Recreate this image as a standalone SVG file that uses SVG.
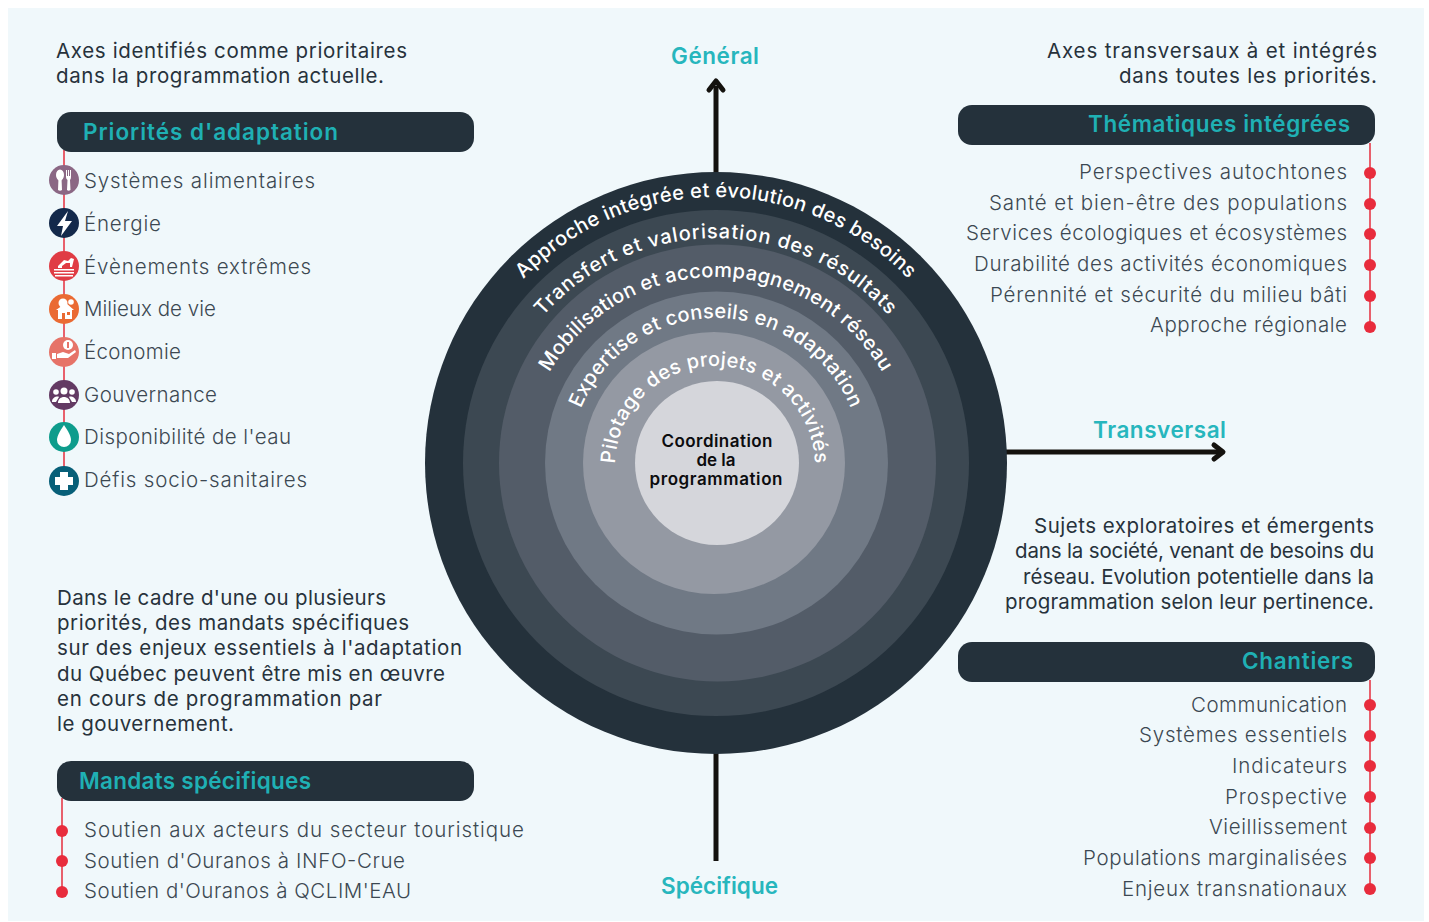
<svg xmlns="http://www.w3.org/2000/svg" width="1429" height="922" viewBox="0 0 1429 922">
<style>
text{font-family:"Inter","Noto Sans","Liberation Sans",sans-serif}
.t{font-size:20.5px;fill:#3c4852;font-weight:300}
.r{text-anchor:end}
.p{font-size:20.5px;fill:#27323b;font-weight:400}
.h{font-size:22.5px;fill:#1fb0b4;font-weight:600}
.a{font-size:22.5px;fill:#27b6bd;font-weight:600}
.arc{font-size:20px;fill:#fff;font-weight:500;text-anchor:middle}
.c{font-size:17px;fill:#0c0c0e;font-weight:600;text-anchor:middle}
.v{stroke:#e8606c;stroke-width:2;fill:none}
.d{fill:#e82c3c}
.b{fill:#24313b}
.ax{stroke:#14120e;stroke-width:5;fill:none}
.hd{stroke:#14120e;stroke-width:5;fill:none;stroke-linecap:round;stroke-linejoin:round}
.w{fill:#fff}
</style>
<defs>
<path id="a1" d="M449 464A267 267 0 0 1 983 464"/>
<path id="a2" d="M485 469A231 231 0 0 1 947 469"/>
<path id="a3" d="M523 470A193 193 0 0 1 909 470"/>
<path id="a4" d="M570 464A146 146 0 0 1 862 464"/>
<path id="a5" d="M615 466A100 100 0 0 1 815 466"/>
</defs>
<rect width="1429" height="922" fill="#fff"/>
<rect x="8" y="8" width="1416" height="913" fill="#f0f8fb"/>

<g id="connectors">
<path class="ax" d="M716 175V86"/><path class="hd" d="M709 90L716 81L723 90"/>
<path class="ax" d="M1005 452H1221"/><path class="hd" d="M1214 445L1223 452L1214 459"/>
<path class="ax" d="M716 752V861"/>
<path class="v" d="M64 150V480"/>
<path class="v" d="M1370 143V327"/>
<path class="v" d="M1370 680V889"/>
<path class="v" d="M62 798V892"/>
</g>

<g id="centre">
<circle cx="716" cy="463" r="291" fill="#24313b"/>
<circle cx="716" cy="463" r="253" fill="#3c4852"/>
<circle cx="717.500" cy="463" r="218.500" fill="#535c68"/>
<circle cx="716.500" cy="463" r="171.500" fill="#707985"/>
<circle cx="714" cy="463" r="131" fill="#9499a3"/>
<circle cx="717" cy="463" r="82" fill="#d5d6db"/>
<text class="arc" letter-spacing=".36"><textPath href="#a1" startOffset="50%">Approche intégrée et évolution des besoins</textPath></text>
<text class="arc" letter-spacing=".9"><textPath href="#a2" startOffset="50%">Transfert et valorisation des résultats</textPath></text>
<text class="arc" letter-spacing=".35"><textPath href="#a3" startOffset="50%">Mobilisation et accompagnement réseau</textPath></text>
<text class="arc" letter-spacing=".3"><textPath href="#a4" startOffset="50%">Expertise et conseils en adaptation</textPath></text>
<text class="arc" letter-spacing=".3"><textPath href="#a5" startOffset="50%">Pilotage des projets et activités</textPath></text>
<text class="c" x="717" y="447" textLength="111">Coordination</text>
<text class="c" x="716" y="466" textLength="39">de la</text>
<text class="c" x="716" y="485" textLength="133">programmation</text>
</g>

<g id="axis-labels">
<text class="a" x="671" y="64" textLength="88">Général</text>
<text class="a" x="1093" y="438" textLength="133">Transversal</text>
<text class="a" x="661" y="894" textLength="117">Spécifique</text>
</g>

<g id="intro-left">
<text class="p" x="56" y="58" textLength="351">Axes identifiés comme prioritaires</text>
<text class="p" x="56" y="83" textLength="328">dans la programmation actuelle.</text>
</g>
<g id="intro-right">
<text class="p r" x="1377" y="58" textLength="330">Axes transversaux à et intégrés</text>
<text class="p r" x="1377" y="83" textLength="258">dans toutes les priorités.</text>
</g>

<g id="priorites">
<rect class="b" x="57" y="112" width="417" height="40" rx="14"/>
<text class="h" x="83" y="140" textLength="255">Priorités d'adaptation</text>
<text class="t" x="84" y="188" textLength="231">Systèmes alimentaires</text>
<text class="t" x="84" y="231" textLength="77">Énergie</text>
<text class="t" x="84" y="274" textLength="227">Évènements extrêmes</text>
<text class="t" x="84" y="316" textLength="132">Milieux de vie</text>
<text class="t" x="84" y="359" textLength="97">Économie</text>
<text class="t" x="84" y="402" textLength="133">Gouvernance</text>
<text class="t" x="84" y="444" textLength="207">Disponibilité de l'eau</text>
<text class="t" x="84" y="487" textLength="223">Défis socio-sanitaires</text>
</g>
<g id="icon-alimentaires"><circle cx="64" cy="180" r="15" fill="#8b6784"/><ellipse class="w" cx="60" cy="175" rx="4" ry="5.500"/><path class="w" d="M58.500 178H61.500L62 190Q60 191.500 58 190ZM66 170H67V176H68V170H69V176H70V170H71V177Q71 179 70 180L70.500 190Q68.500 191.500 67 190L67.500 180Q66 179 66 177Z"/></g>
<g id="icon-energie"><circle cx="64" cy="223" r="15" fill="#13294b"/><path class="w" d="M68 211L57 226H63L61 236L72 221H65Z"/></g>
<g id="icon-extremes"><circle cx="64" cy="266" r="15" fill="#e03c44"/><path class="w" d="M58 266L64 260L68 261L71 258L74 259L72 267H70L70 263L66 263L62 266L62 268H58ZM54 269H74V270.500H54ZM54 272H74V273.500H54ZM55 275H73V276.500H55Z"/></g>
<g id="icon-milieux"><circle cx="64" cy="309" r="15" fill="#ea6a33"/><path class="w" d="M56 310L66 303L74 310H72V319H58V310Z"/><circle class="w" cx="63" cy="303" r="4.500"/><circle class="w" cx="71" cy="302" r="2.800"/><path fill="#ea6a33" d="M62 313H65V319H62ZM67 312H70V315H67Z"/></g>
<g id="icon-economie"><circle cx="64" cy="352" r="15" fill="#e67368"/><circle class="w" cx="68" cy="345" r="5"/><path fill="#e67368" d="M67 342H69V348H67Z"/><path class="w" d="M52 353H56V359H52ZM57 354L63 352L69 354L75 350L76 352L68 358H57Z"/></g>
<g id="icon-gouvernance"><circle cx="64" cy="395" r="15" fill="#633a63"/><circle class="w" cx="64" cy="391" r="3.500"/><circle class="w" cx="56" cy="392" r="2.800"/><circle class="w" cx="72" cy="392" r="2.800"/><path class="w" d="M58 403C58 395 70 395 70 403ZM52 402C52 396 59 396 59 397L56 402ZM76 402C76 396 69 396 69 397L72 402Z"/></g>
<g id="icon-eau"><circle cx="64" cy="437" r="15" fill="#0e9c8c"/><path class="w" d="M64 425C60 431 57 436 57 440A7 7 0 0 0 71 440C71 436 68 431 64 425Z"/></g>
<g id="icon-sanitaires"><circle cx="64" cy="481" r="15" fill="#075f78"/><path class="w" d="M60 472H68V477H73V485H68V490H60V485H55V477H60Z"/></g>

<g id="thematiques">
<rect class="b" x="958" y="105" width="417" height="40" rx="14"/>
<text class="h r" x="1350" y="132" textLength="262">Thématiques intégrées</text>
<text class="t r" x="1347" y="179" textLength="268">Perspectives autochtones</text>
<text class="t r" x="1347" y="210" textLength="358">Santé et bien-être des populations</text>
<text class="t r" x="1347" y="240" textLength="381">Services écologiques et écosystèmes</text>
<text class="t r" x="1347" y="271" textLength="373">Durabilité des activités économiques</text>
<text class="t r" x="1347" y="302" textLength="357">Pérennité et sécurité du milieu bâti</text>
<text class="t r" x="1347" y="332" textLength="197">Approche régionale</text>
<circle class="d" cx="1370" cy="173" r="6"/><circle class="d" cx="1370" cy="204" r="6"/><circle class="d" cx="1370" cy="234" r="6"/><circle class="d" cx="1370" cy="265" r="6"/><circle class="d" cx="1370" cy="296" r="6"/><circle class="d" cx="1370" cy="327" r="6"/>
</g>

<g id="emergents">
<text class="p r" x="1374" y="533" textLength="340">Sujets exploratoires et émergents</text>
<text class="p r" x="1374" y="558" textLength="359">dans la société, venant de besoins du</text>
<text class="p r" x="1374" y="584" textLength="351">réseau. Evolution potentielle dans la</text>
<text class="p r" x="1374" y="609" textLength="369">programmation selon leur pertinence.</text>
</g>

<g id="chantiers">
<rect class="b" x="958" y="642" width="417" height="40" rx="14"/>
<text class="h r" x="1353" y="669" textLength="111">Chantiers</text>
<text class="t r" x="1347" y="712" textLength="156">Communication</text>
<text class="t r" x="1347" y="742" textLength="208">Systèmes essentiels</text>
<text class="t r" x="1347" y="773" textLength="115">Indicateurs</text>
<text class="t r" x="1347" y="804" textLength="122">Prospective</text>
<text class="t r" x="1347" y="834" textLength="138">Vieillissement</text>
<text class="t r" x="1347" y="865" textLength="264">Populations marginalisées</text>
<text class="t r" x="1347" y="896" textLength="225">Enjeux transnationaux</text>
<circle class="d" cx="1370" cy="705" r="6"/><circle class="d" cx="1370" cy="736" r="6"/><circle class="d" cx="1370" cy="766" r="6"/><circle class="d" cx="1370" cy="797" r="6"/><circle class="d" cx="1370" cy="828" r="6"/><circle class="d" cx="1370" cy="858" r="6"/><circle class="d" cx="1370" cy="889" r="6"/>
</g>

<g id="mandats-texte">
<text class="p" x="57" y="605" textLength="329">Dans le cadre d'une ou plusieurs</text>
<text class="p" x="57" y="630" textLength="352">priorités, des mandats spécifiques</text>
<text class="p" x="57" y="655" textLength="405">sur des enjeux essentiels à l'adaptation</text>
<text class="p" x="57" y="681" textLength="388">du Québec peuvent être mis en œuvre</text>
<text class="p" x="57" y="706" textLength="325">en cours de programmation par</text>
<text class="p" x="57" y="731" textLength="177">le gouvernement.</text>
</g>

<g id="mandats">
<rect class="b" x="57" y="761" width="417" height="40" rx="14"/>
<text class="h" x="79" y="789" textLength="232">Mandats spécifiques</text>
<text class="t" x="84" y="837" textLength="440">Soutien aux acteurs du secteur touristique</text>
<text class="t" x="84" y="868" textLength="321">Soutien d'Ouranos à INFO-Crue</text>
<text class="t" x="84" y="898" textLength="327">Soutien d'Ouranos à QCLIM'EAU</text>
<circle class="d" cx="62" cy="831" r="6"/><circle class="d" cx="62" cy="861" r="6"/><circle class="d" cx="62" cy="892" r="6"/>
</g>
</svg>
